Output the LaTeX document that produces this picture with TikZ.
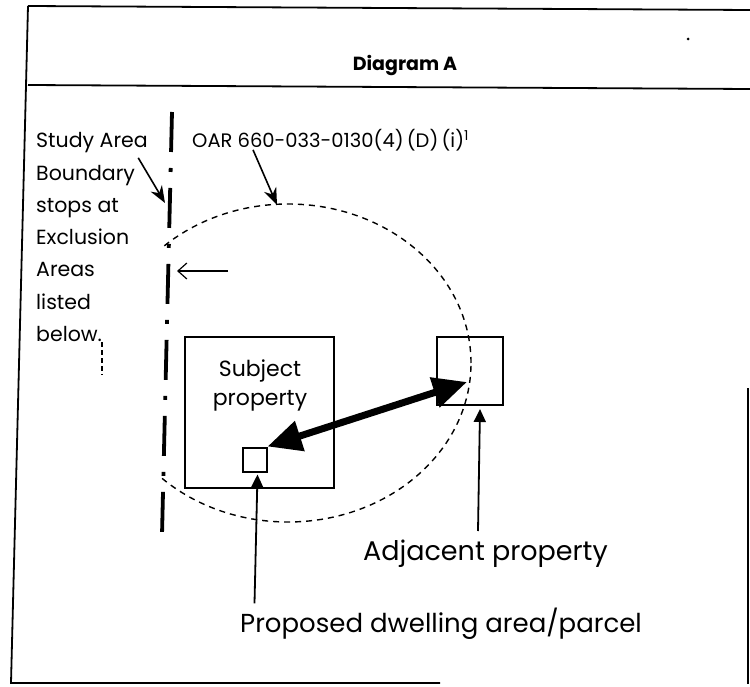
\documentclass[tikz,border=0pt]{standalone}
\usepackage{fontspec}
\setmainfont{Poppins}
\usetikzlibrary{arrows.meta,calc}

\begin{document}
\begin{tikzpicture}[x=1pt,y=-1pt,
  frame/.style={line width=1.8pt},
  box/.style={draw,line width=2pt,inner sep=0pt},
  ptr/.style={line width=1.6pt,-{Stealth[length=17pt,width=13pt]}},
  up/.style={line width=1.8pt,-{Triangle[length=13pt,width=12pt]}},
  fat/.style={line width=7pt,{Triangle[length=34pt,width=30pt]}-{Triangle[length=34pt,width=30pt]}},
  ring/.style={line width=1.4pt,dash pattern=on 6pt off 5pt},
  excl/.style={line width=3.8pt,dash pattern=on 40pt off 16pt on 4pt off 16pt},
  lbl/.style={inner sep=0pt,font=\fontsize{20.5}{20.5}\selectfont},
  big/.style={inner sep=0pt,font=\fontsize{26}{26}\selectfont}]
\useasboundingbox (0,0) rectangle (750,687);
\draw[frame] (28,6) -- (750,10); \draw[frame] (28,85) -- (750,89);
\draw[frame] (28,6) -- (11,683) -- (440,683); \draw[frame] (748,388) -- (748,684);
\fill (688,39) circle (1.5pt);
\node[inner sep=0pt,font=\bfseries\fontsize{19}{19}\selectfont] (title) at (405,66) {Diagram A};
\foreach \t [count=\i] in {Study Area,Boundary,stops at,Exclusion,Areas,listed,below.}
  \node[lbl,anchor=base west] (side\i) at (36,148+32.2*\i-32.2) {\t};
\node[lbl,anchor=base west,font=\fontsize{19.5}{19.5}\selectfont] (oar) at (192,148) {OAR 660-033-0130(4)\,(D)\,(i)\textsuperscript{1}};
\coordinate (exTop) at (172,112); \coordinate (exBot) at (162,535);
\draw[excl] (exTop) -- (exBot);
\draw[line width=1.2pt,dash pattern=on 5pt off 3pt] (102,342) -- (102,375);
\begin{scope}
\clip (162,150) -- (158,560) -- (600,560) -- (600,150) -- cycle;
\draw[ring] (288,363) ellipse [x radius=183pt,y radius=159pt];
\end{scope}
\coordinate (bnd) at (165,203); \coordinate (ringtop) at (277,205);
\draw[ptr] ($(side2.north east)+(3,-7)$) -- (bnd);
\draw[ptr] ($(oar.south west)+(61,-2)$) -- (ringtop);
\coordinate (gapR) at (228,271); \coordinate (gapL) at (177,271);
\draw[line width=1.2pt,-{Straight Barb[length=9pt,width=16pt]}] (gapR) -- (gapL);
\node[box,minimum width=149pt,minimum height=151pt] (subj) at (259.5,412.5) {};
\node[inner sep=0pt,align=center,font=\fontsize{22}{29}\selectfont,anchor=base] (subjtxt) at (260,405) {Subject\\property};
\node[box,minimum size=24pt] (dwell) at (254.5,459.5) {};
\node[box,minimum width=66pt,minimum height=68pt] (adj) at (470,371) {};
\coordinate (adjpt) at (467,382);
\draw[fat] (dwell.north east) -- (adjpt);
\node[big,anchor=base west,font=\fontsize{27}{27}\selectfont] (adjtxt) at (363,560) {Adjacent property};
\node[big,anchor=base west] (prop) at (240,632) {Proposed dwelling area/parcel};
\draw[up] (dwell.south |- prop.north) ++(0,-4) -- ($(dwell.south)+(3,2)$);
\draw[up] ($(adj.south)+(8,125)$) -- ($(adj.south)+(10,3)$);
\end{tikzpicture}
\end{document}
